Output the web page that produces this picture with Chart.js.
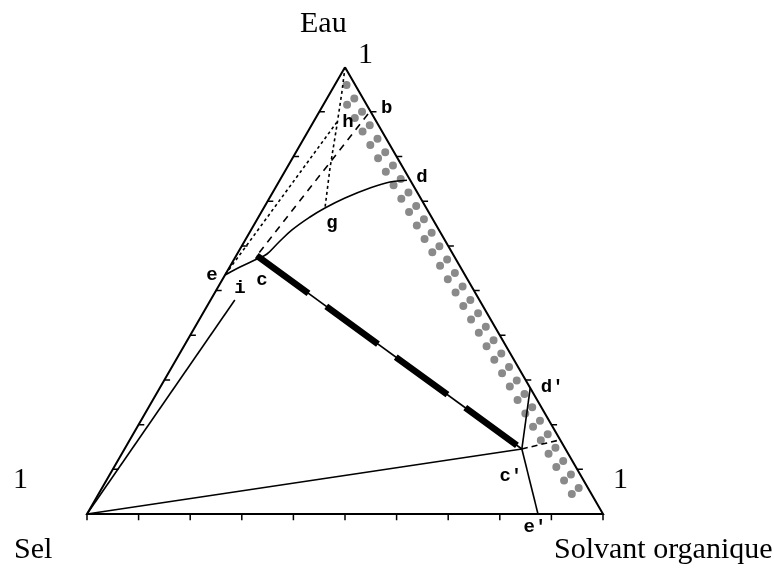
<!DOCTYPE html>
<html>
<head>
<meta charset="utf-8">
<script src="https://cdn.jsdelivr.net/npm/chart.js@4"></script>
<style>
  html, body { margin: 0; padding: 0; background: #fff; }
  canvas { display: block; }
</style>
</head>
<body>
<canvas id="ternaryChart" width="774" height="570"></canvas>
<script>
// compositions are [eau, solvant] mass fractions, sel = 1 - eau - solvant
const triangle = [[1, 0], [0, 0], [0, 1], [1, 0]];
const tickValues = [0.1, 0.2, 0.3, 0.4, 0.5, 0.6, 0.7, 0.8, 0.9];
const baseTickValues = [0, 0.1, 0.2, 0.3, 0.4, 0.5, 0.6, 0.7, 0.8, 0.9, 1];

const binodal = [
    [0.747, 0.2465], [0.743, 0.2157], [0.7295, 0.1836], [0.7072, 0.1464],
    [0.6848, 0.1188], [0.6646, 0.0999], [0.6356, 0.0795], [0.6065, 0.067],
    [0.5818, 0.0579], [0.5707, 0.0441], [0.5527, 0.0202], [0.5349, 0],
];
const tieLine = [[0.578, 0.04], [0.1455, 0.77]];
const topToG = [[1, 0], [0.944, 0.022], [0.8705, 0.0492], [0.7743, 0.0838], [0.6848, 0.1188]];
const hToE = [[0.8772, 0.0459], [0.5349, 0]];
const bToC = [[0.8951, 0.097], [0.578, 0.04]];
const selToI = [[0, 0], [0.479, 0.047]];
const selToCp = [[0, 0], [0.1455, 0.77]];
const dpToCp = [[0.282, 0.718], [0.1455, 0.77]];
const cpToEp = [[0.1455, 0.77], [0, 0.874]];
const cpToEdge = [[0.1455, 0.77], [0.166, 0.834]];
const dotsOuter = [[0.96, 0.023], [0.045, 0.937]];
const dotsInner = [[0.916, 0.046], [0.04, 0.922]];

const pointNames = ['b', 'h', 'd', 'g', 'e', 'i', 'c', "d'", "c'", "e'"];
const pointComps = [
    [0.9, 0.1], [0.873, 0.048], [0.747, 0.2465], [0.6848, 0.1188], [0.5349, 0],
    [0.479, 0.047], [0.575, 0.042], [0.282, 0.718], [0.1455, 0.77], [0, 0.874],
];

const H = Math.sqrt(3) / 2;
const toXY = ([eau, solv]) => ({ x: solv + eau / 2, y: eau * H });
const path = (list) => list.map(toXY);
const gap = { x: NaN, y: NaN };

const tickPts = [];
tickValues.forEach((v) => {
    const l = toXY([v, 0]);
    tickPts.push(l, { x: l.x + 0.011, y: l.y }, gap);
    const r = toXY([v, 1 - v]);
    tickPts.push(r, { x: r.x + 0.011, y: r.y }, gap);
});
baseTickValues.forEach((v) => {
    const b = toXY([0, v]);
    tickPts.push(b, { x: b.x, y: b.y - 0.012 }, gap);
});

const line = (data, extra) => Object.assign({
    data,
    showLine: true,
    borderColor: '#000',
    borderWidth: 1.6,
    pointRadius: 0,
    fill: false,
}, extra);

const labelOffsets = {
    'b': [16, -4], 'h': [11, -2], 'd': [15, -3], 'g': [7, 15], 'e': [-13, 0],
    'i': [5, -12], 'c': [5, 23], "d'": [22, -1], "c'": [-11, 27], "e'": [-3, 13],
};

const textPlugin = {
    id: 'ternaryText',
    afterDatasetsDraw(chart) {
        const { ctx, scales } = chart;
        ctx.save();
        ctx.fillStyle = '#000';
        ctx.font = '30px "Liberation Serif"';
        ctx.textAlign = 'left';
        ctx.textBaseline = 'alphabetic';
        ctx.fillText('Eau', 300, 32);
        ctx.fillText('1', 358, 63);
        ctx.fillText('1', 13, 488);
        ctx.fillText('1', 613, 488);
        ctx.fillText('Sel', 14, 558);
        ctx.fillText('Solvant organique', 554, 558);

        ctx.font = 'bold 19px "Liberation Mono"';
        ctx.textAlign = 'center';
        ctx.textBaseline = 'middle';
        pointNames.forEach((name, i) => {
            const p = toXY(pointComps[i]);
            const off = labelOffsets[name];
            ctx.fillText(name, scales.x.getPixelForValue(p.x) + off[0], scales.y.getPixelForValue(p.y) + off[1]);
        });
        ctx.restore();
    },
};

new Chart(document.getElementById('ternaryChart'), {
    type: 'scatter',
    data: {
        datasets: [
            line(path(triangle), { borderWidth: 2 }),
            line(tickPts, { borderWidth: 1.5 }),
            line(path(binodal), { tension: 0.4 }),
            line(path(tieLine), { borderWidth: 1.6 }),
            line(path(tieLine), { borderWidth: 6.5, borderDash: [64, 22], borderCapStyle: 'butt' }),
            line(path(topToG), { borderDash: [3, 3] }),
            line(path(hToE), { borderDash: [3, 3] }),
            line(path(bToC), { borderDash: [7, 6] }),
            line(path(selToI)),
            line(path(selToCp)),
            line(path(dpToCp)),
            line(path(cpToEp)),
            line(path(cpToEdge), { borderDash: [6, 4] }),
            line(path(dotsOuter), { borderColor: '#8a8a8a', borderWidth: 8, borderDash: [0, 15.5], borderCapStyle: 'round' }),
            line(path(dotsInner), { borderColor: '#8a8a8a', borderWidth: 8, borderDash: [0, 15.5], borderCapStyle: 'round' }),
        ],
    },
    options: {
        responsive: false,
        animation: false,
        events: [],
        layout: { padding: 0 },
        plugins: {
            legend: { display: false },
            tooltip: { enabled: false },
        },
        scales: {
            x: { type: 'linear', display: false, min: -87 / 516, max: 687 / 516 },
            y: { type: 'linear', display: false, min: -56 / 516, max: 514 / 516 },
        },
    },
    plugins: [textPlugin],
});
</script>
</body>
</html>
